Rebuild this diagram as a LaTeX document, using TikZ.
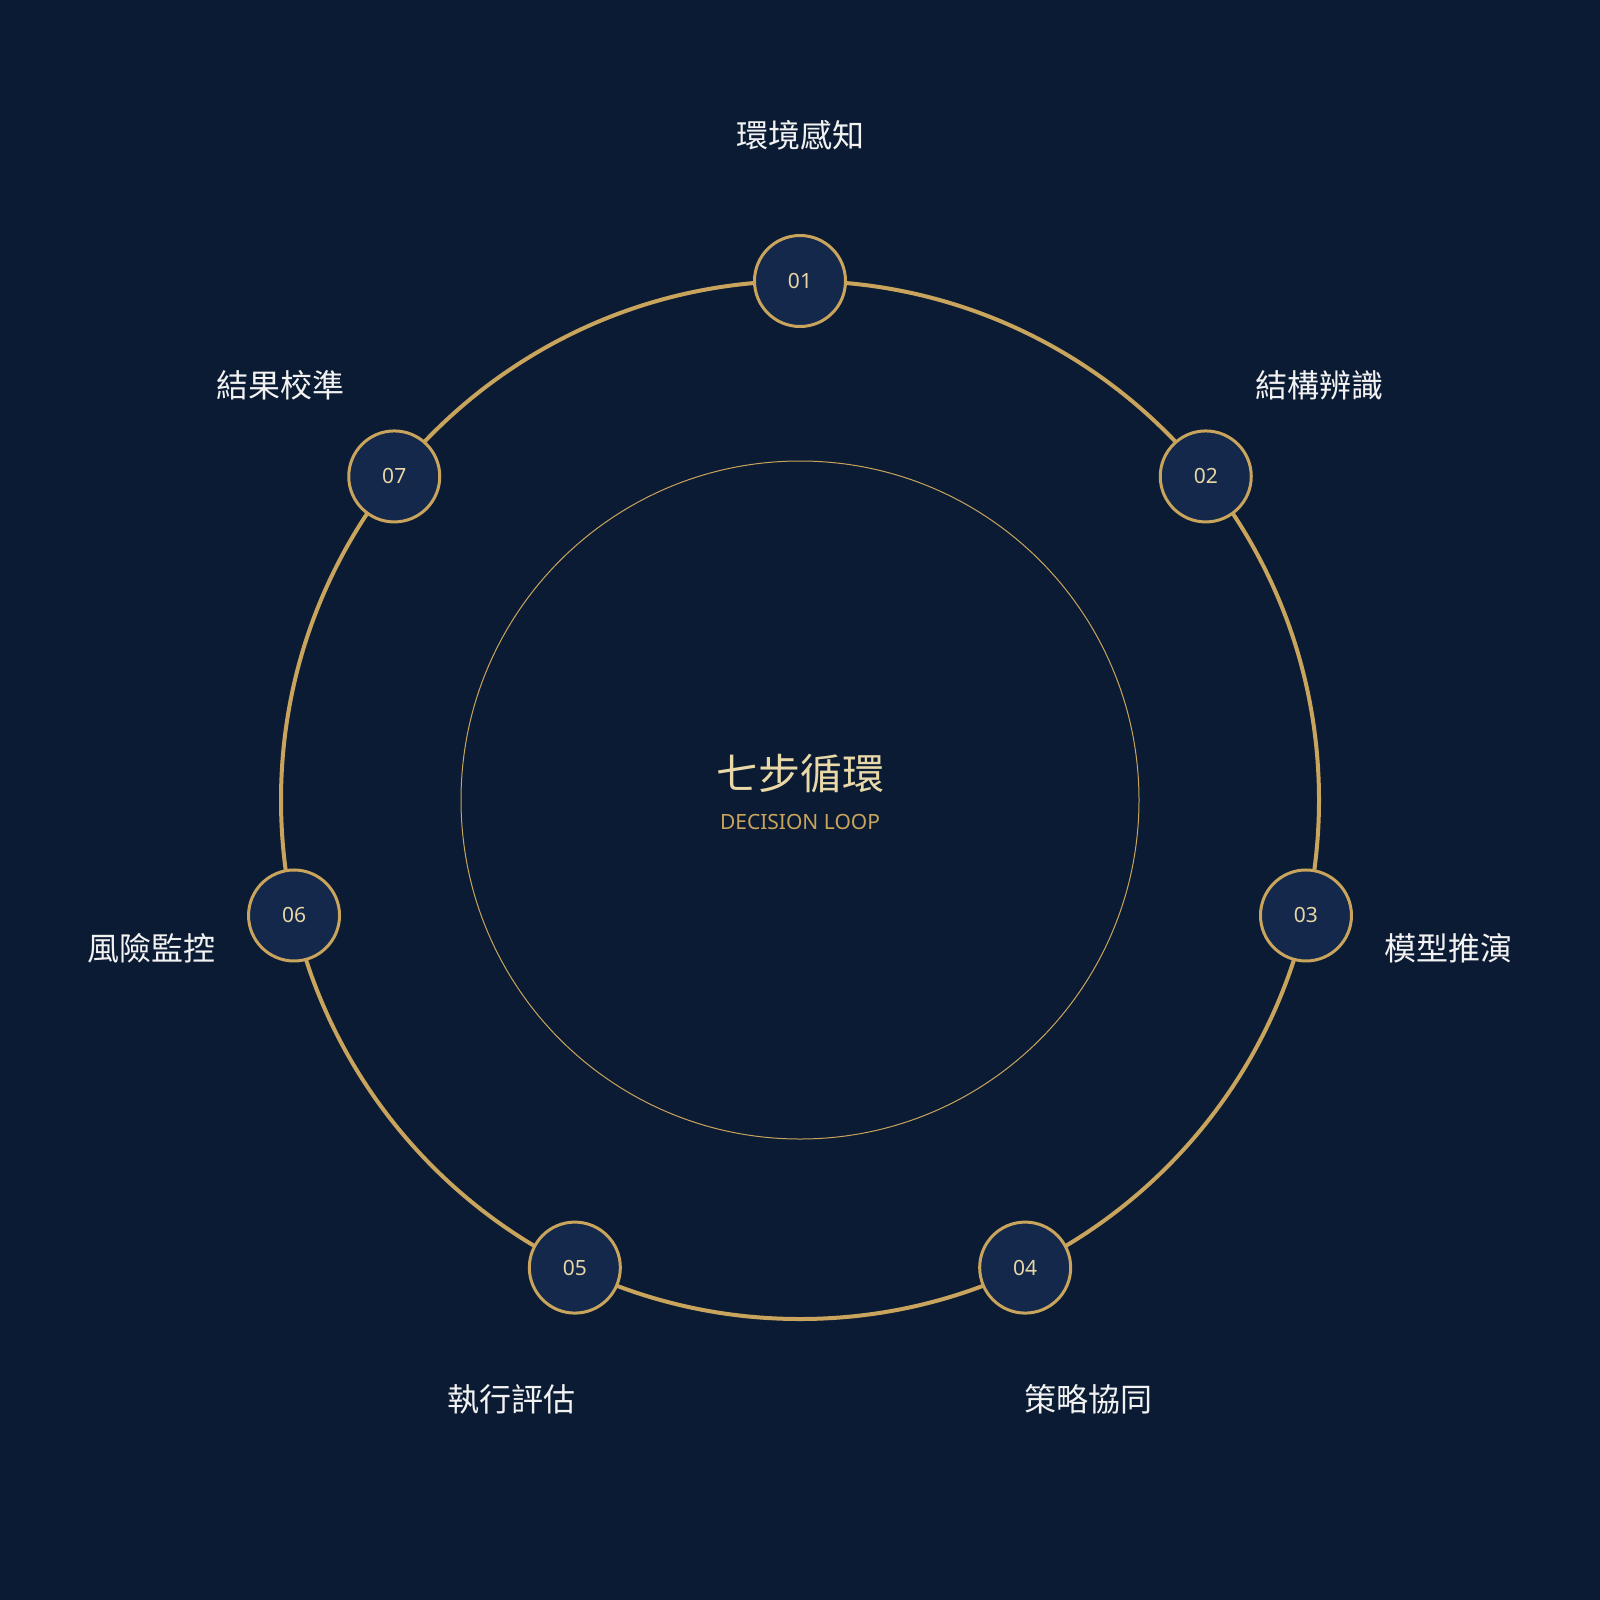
\documentclass[tikz,border=0pt]{standalone}
\usepackage{fontspec}
\usetikzlibrary{calc}
\setmainfont{Noto Sans CJK TC}
\newfontfamily\latinf{Noto Sans}
\definecolor{bgc}{HTML}{0B1B33}
\definecolor{nodefill}{HTML}{13284A}
\definecolor{gold}{HTML}{C9A45C}
\definecolor{titlec}{HTML}{EAD9A8}
\definecolor{numc}{HTML}{E8D6A6}
\definecolor{labc}{HTML}{F2F2F2}
\tikzset{
  stepnode/.style={circle,draw=gold,line width=3pt,fill=nodefill,minimum size=91pt,inner sep=0pt,
    text=numc,font=\latinf\fontsize{21}{24}\selectfont},
  steplabel/.style={text=labc,font=\fontsize{32}{36}\selectfont,inner sep=0pt},
}
\begin{document}
\begin{tikzpicture}[x=1pt,y=-1pt]
\fill[bgc] (0,0) rectangle (1600,1600);
\useasboundingbox (0,0) rectangle (1600,1600);
\coordinate (c) at (800,800);
\draw[gold,line width=1pt] (c) circle[radius=339];
\draw[gold,line width=4pt] (c) circle[radius=519];
\foreach \i/\lab in {1/環境感知,2/結構辨識,3/模型推演,4/策略協同,5/執行評估,6/風險監控,7/結果校準}{
  \pgfmathsetmacro\ang{90-(\i-1)*360/7}
  \node[stepnode] (n\i) at ($(c)+(\ang:519 and -519)$) {0\i};
  \node[steplabel] (l\i) at ($(c)+(\ang:665 and -665)$) {\lab};
}
\node[text=titlec,font=\fontsize{42}{46}\selectfont,inner sep=0pt] (title) at (800,774) {七步循環};
\node[text=gold,font=\latinf\fontsize{21}{24}\selectfont,inner sep=0pt] (sub) at (800,822) {DECISION LOOP};
\end{tikzpicture}
\end{document}
